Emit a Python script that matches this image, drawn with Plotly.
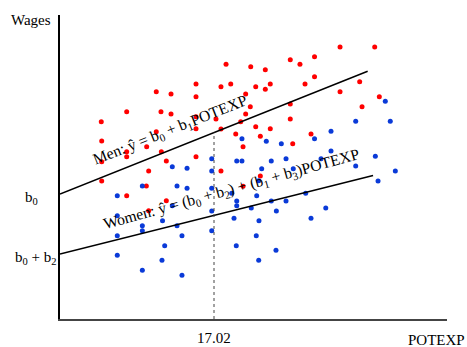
import plotly.graph_objects as go

# ---- data (POTEXP, Wages) ----
men_x = [10.64, 12.27, 7.37, 11.16, 12.27, 4.56, 18.35, 21.08, 22.69, 25.45, 26.52, 28.13,
         15.03, 17.79, 18.87, 21.63, 22.69, 23.24, 27.08, 28.13, 15.03, 20.52, 21.03, 25.45,
         15.03, 17.24, 20.52, 19.97, 25.45, 17.79, 21.63, 23.24, 15.03, 30.95, 34.78, 33.12,
         30.95, 35.29, 33.38, 4.61, 10.64, 7.37, 7.37, 9.58, 11.20, 4.61, 11.75, 9.80, 4.61,
         9.54, 7.37, 11.75, 9.80, 19.42, 22.14, 20.23, 25.72, 15.03, 17.79, 22.14, 20.23, 27.74]
men_y = [22.73, 22.5, 20.73, 20.73, 20.5, 19.73, 25.47, 25.23, 24.93, 25.93, 25.47, 26.22,
         23.5, 23.23, 23.5, 23.23, 22.97, 23.5, 23.5, 24.22, 22.23, 22.5, 21.23, 21.5,
         20.23, 20.0, 20.5, 19.73, 20.0, 19.0, 19.23, 19.02, 19.02, 27.2, 27.2, 23.73,
         22.73, 22.23, 21.23, 17.8, 18.73, 16.73, 16.23, 17.23, 16.73, 15.73, 15.8, 14.8, 13.8,
         13.3, 12.33, 11.83, 10.83, 18.5, 18.27, 17.23, 17.53, 16.23, 14.8, 14.3, 13.27, 18.5]

women_x = [35.95, 32.68, 36.50, 12.41, 14.04, 9.10, 12.93, 14.04, 6.33, 12.41, 6.33, 11.33,
           20.11, 22.80, 24.46, 28.13, 16.77, 19.53, 20.11, 23.35, 24.98, 16.77, 22.29, 25.78,
           21.96, 16.77, 18.98, 21.74, 19.53, 23.35, 24.98, 27.15, 19.53, 16.77, 21.14, 19.23,
           21.99, 23.91, 27.74, 29.95, 29.95, 28.85, 32.68, 34.85, 37.06, 35.15, 29.37, 9.10,
           9.10, 12.93, 6.33, 13.48, 11.57, 6.33, 11.27, 9.10, 13.48, 16.77, 21.69, 19.48, 23.87, 21.96]
women_y = [21.77, 19.77, 19.77, 15.23, 15.07, 13.3, 13.3, 13.07, 12.33, 11.33, 10.33, 9.82,
           18.03, 17.77, 17.53, 18.03, 16.03, 15.8, 15.8, 15.8, 16.03, 14.8, 15.03, 15.03,
           13.83, 13.07, 12.57, 12.33, 11.8, 11.8, 11.8, 12.57, 11.33, 10.8, 11.1, 10.07,
           9.83, 10.8, 10.07, 18.77, 16.8, 16.03, 15.3, 16.27, 14.8, 13.8, 11.1, 9.33,
           8.83, 9.33, 8.33, 8.33, 7.33, 6.37, 5.87, 4.87, 4.37, 8.83, 8.33, 7.33, 6.87, 5.87]

# regression coefficients
b0, b1, b2, b3 = 12.5, 0.361, -6.0, -0.134
men_line_x = [0, 34.0]
women_line_x = [0, 34.6]
mean_potexp = 17.02

FONT = "Liberation Serif"

fig = go.Figure()
fig.add_trace(go.Scatter(x=men_x, y=men_y, mode="markers",
                         marker=dict(color="#ff0000", size=5), hoverinfo="skip"))
fig.add_trace(go.Scatter(x=women_x, y=women_y, mode="markers",
                         marker=dict(color="#0a3ad8", size=5), hoverinfo="skip"))
fig.add_trace(go.Scatter(x=men_line_x, y=[b0 + b1 * v for v in men_line_x], mode="lines",
                         line=dict(color="black", width=1.5), hoverinfo="skip"))
fig.add_trace(go.Scatter(x=women_line_x, y=[(b0 + b2) + (b1 + b3) * v for v in women_line_x],
                         mode="lines", line=dict(color="black", width=1.5), hoverinfo="skip"))
fig.add_trace(go.Scatter(x=[mean_potexp, mean_potexp], y=[0, b0 + b1 * mean_potexp],
                         mode="lines", line=dict(color="#444444", width=1, dash="dot"),
                         hoverinfo="skip"))

f = dict(family=FONT, size=15, color="black")
fr = dict(family=FONT, size=15.7, color="black")
ann = [
    dict(x=12.16, y=18.9, xref="x", yref="y", text="Men: ŷ = b<sub>0</sub> + b<sub>1</sub>POTEXP",
         textangle=-21.6, showarrow=False, font=fr, xanchor="center", yanchor="middle"),
    dict(x=19.0, y=13.0, xref="x", yref="y",
         text="Women: ŷ = (b<sub>0</sub> + b<sub>2</sub>) + (b<sub>1</sub> + b<sub>3</sub>)POTEXP",
         textangle=-15.5, showarrow=False, font=fr, xanchor="center", yanchor="middle"),
    dict(x=-0.0517, y=12.1, xref="paper", yref="y", text="b<sub>0</sub>", xanchor="right",
         yanchor="middle", showarrow=False, font=f),
    dict(x=-0.005, y=6.1, xref="paper", yref="y", text="b<sub>0</sub> + b<sub>2</sub>",
         xanchor="right", yanchor="middle", showarrow=False, font=f),
    dict(x=-0.018, y=0.9836, xref="paper", yref="paper", text="Wages", xanchor="right",
         yanchor="middle", showarrow=False, font=f),
    dict(x=0.9716, y=-0.069, xref="paper", yref="paper", text="POTEXP", xanchor="center",
         yanchor="middle", showarrow=False, font=f),
    dict(x=mean_potexp, y=-0.0609, xref="x", yref="paper", text="17.02", xanchor="center",
         yanchor="middle", showarrow=False, font=f),
]

fig.update_layout(
    width=467, height=347,
    margin=dict(l=60, r=20, t=15, b=28),
    plot_bgcolor="white", paper_bgcolor="white",
    showlegend=False,
    annotations=ann,
    xaxis=dict(range=[0, 42.77], showgrid=False, zeroline=False, showticklabels=False,
               ticks="", showline=True, linecolor="#444444", linewidth=2),
    yaxis=dict(range=[0, 30.4], showgrid=False, zeroline=False, showticklabels=False,
               ticks="", showline=True, linecolor="black", linewidth=1.5),
)

fig.write_html("out.html")
